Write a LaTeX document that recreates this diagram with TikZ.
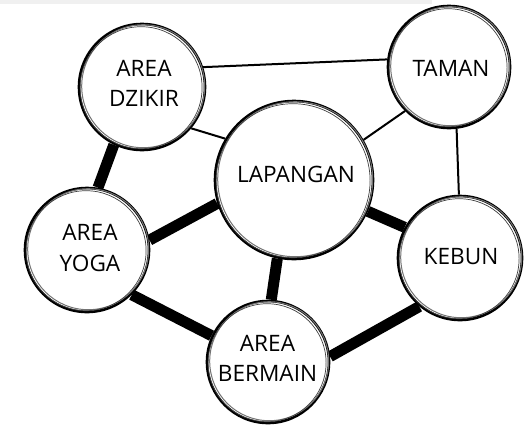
\documentclass[tikz,border=0pt]{standalone}
\usepackage{fontspec}
\setmainfont{Open Sans}
\usetikzlibrary{backgrounds,calc}
\tikzset{
  place/.style={circle, fill=white, draw=black, line width=2.6pt, inner sep=0pt},
  label text/.style={align=center, inner sep=0pt, font=\fontsize{22.6}{30.5}\selectfont},
  thinedge/.style={line width=2pt},
  thickedge/.style={line width=11pt},
  sketchA/.style={draw=black!55, line width=1pt},
  sketchB/.style={draw=black!75, line width=0.7pt},
}
\newcommand{\sketchring}[3]{%
  \draw[sketchA] ($(#1.center)+(1.2,-0.8)$) circle (#2);
  \draw[sketchB] ($(#1.center)+(-0.9,0.7)$) circle (#3);
}
\begin{document}
\begin{tikzpicture}[x=1pt,y=-1pt]
\useasboundingbox (0,0) rectangle (529,429);
\fill[black!6] (0,0) rectangle (432,4);

\node[place, minimum size=126pt] (dz) at (142,87) {};
\node[place, minimum size=122pt] (tm) at (449,67) {};
\node[place, minimum size=158pt] (lp) at (294,180) {};
\node[place, minimum size=124pt] (yg) at (87,250) {};
\node[place, minimum size=124pt] (kb) at (460,258) {};
\node[place, minimum size=122pt] (bm) at (268,362) {};

\sketchring{dz}{61.5}{61}
\sketchring{tm}{59.5}{59}
\sketchring{lp}{77.5}{77}
\sketchring{yg}{60.5}{60}
\sketchring{kb}{60.5}{60}
\sketchring{bm}{59.5}{59}

\node[label text] (dzt) at (144,83.5) {AREA\\DZIKIR};
\node[label text] (tmt) at (451,68.5) {TAMAN};
\node[label text] (lpt) at (296,174) {LAPANGAN};
\node[label text] (ygt) at (90,248) {AREA\\YOGA};
\node[label text] (kbt) at (461,256.5) {KEBUN};
\node[label text] (bmt) at (267.5,358.5) {AREA\\BERMAIN};

\begin{scope}[on background layer]
  \draw[thinedge] (dz.18) -- (tm.173);
  \draw[thinedge] (dz.320) -- (lp.149);
  \draw[thinedge] (tm.225) -- (lp.30);
  \draw[thinedge] (tm.277) -- (kb.91);
  \draw[thickedge] (dz.244) -- (yg.80);
  \draw[thickedge] (yg.9) -- (lp.197);
  \draw[thickedge] (lp.337) -- (kb.151);
  \draw[thickedge] (lp.258) -- (bm.87);
  \draw[thickedge] (yg.-45) -- (bm.155);
  \draw[thickedge] (bm.5) -- (kb.230);
\end{scope}
\end{tikzpicture}
\end{document}
